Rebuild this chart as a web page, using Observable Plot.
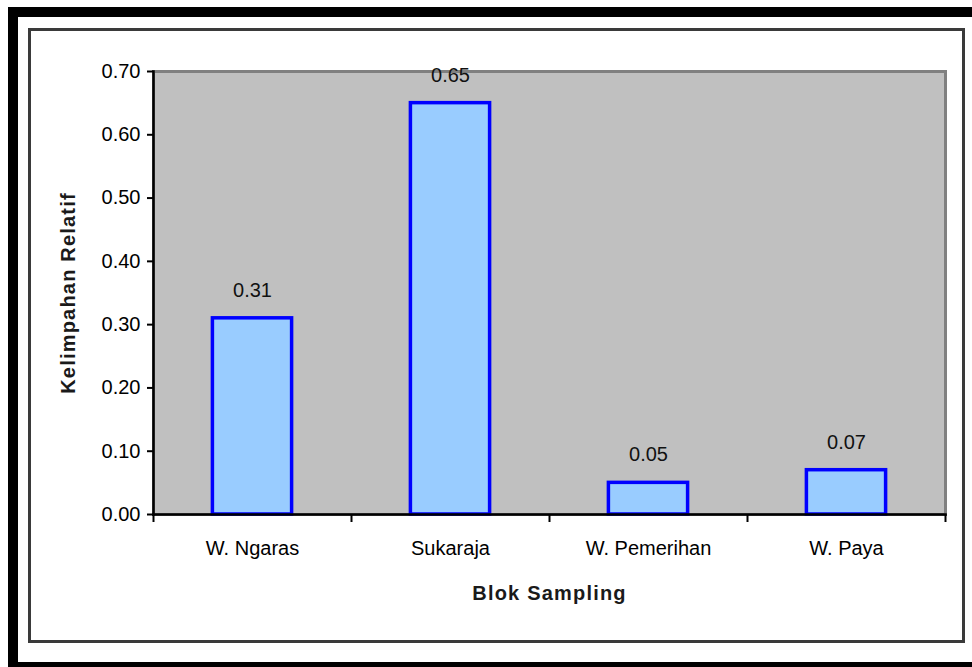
<!DOCTYPE html>
<html>
<head>
<meta charset="utf-8">
<script src="https://cdn.jsdelivr.net/npm/d3@7"></script>
<script src="https://cdn.jsdelivr.net/npm/@observablehq/plot@0.6"></script>
<style>
  html, body { margin: 0; padding: 0; background: #fff; }
  #wrap { position: relative; width: 972px; height: 667px; overflow: hidden; }
  #outer { position: absolute; left: 8px; top: 7px; width: 980px; height: 665px; border: 10px solid #000; box-sizing: border-box; }
  #inner { position: absolute; left: 28px; top: 28px; width: 937px; height: 615px; border: 3px solid #3a3a3a; box-sizing: border-box; }
  #chart { position: absolute; left: 0; top: 0; }
  #chart svg { background: transparent; }
</style>
</head>
<body>
<div id="wrap">
  <div id="outer"></div>
  <div id="inner"></div>
  <div id="chart"></div>
</div>
<script>
const categories = ["W. Ngaras", "Sukaraja", "W. Pemerihan", "W. Paya"];
const values = [0.31, 0.65, 0.05, 0.07];
const yTicks = [0, 0.1, 0.2, 0.3, 0.4, 0.5, 0.6, 0.7];
const xTitle = "Blok Sampling";
const yTitle = "Kelimpahan Relatif";

const data = categories.map((c, i) => ({category: c, index: i, value: values[i]}));
const boundaries = d3.range(categories.length + 1);
const centers = categories.map((c, i) => i + 0.5);

const font = "'Liberation Sans', Arial, sans-serif";

const chart = Plot.plot({
  width: 972,
  height: 667,
  marginLeft: 153,
  marginRight: 27,
  marginTop: 71,
  marginBottom: 153,
  style: {fontFamily: font, fontSize: "20px", color: "#000", background: "transparent"},
  x: {domain: [0, categories.length]},
  y: {domain: [0, 0.7]},
  marks: [
    Plot.frame({fill: "#c0c0c0", stroke: "#808080", strokeWidth: 3}),
    Plot.rectY(data, {
      x1: d => d.index + 0.3,
      x2: d => d.index + 0.7,
      y: "value",
      fill: "#99ccff",
      stroke: "#0000ff",
      strokeWidth: 3.5
    }),
    Plot.text(data, {
      x: d => d.index + 0.5,
      y: "value",
      text: d => d3.format(".2f")(d.value),
      dy: -28,
      fontSize: 20,
      fill: "#111"
    }),
    Plot.frame({anchor: "left", stroke: "#000", strokeWidth: 2.5}),
    Plot.frame({anchor: "bottom", stroke: "#000", strokeWidth: 2.5}),
    Plot.axisY({
      ticks: yTicks,
      tickFormat: d3.format(".2f"),
      tickSize: 6,
      tickPadding: 7,
      strokeWidth: 2,
      fontSize: 20,
      label: null
    }),
    Plot.axisX({
      ticks: boundaries,
      tickSize: 8,
      strokeWidth: 2,
      text: null,
      label: null
    }),
    Plot.axisX({
      ticks: centers,
      tickFormat: (d) => categories[Math.floor(d)],
      tickSize: 0,
      tickPadding: 26,
      fontSize: 20,
      label: null
    }),
    Plot.text([xTitle], {
      frameAnchor: "bottom",
      text: d => d,
      textAnchor: "middle",
      dy: 85,
      fontSize: 20,
      fontWeight: "bold",
      fill: "#1a1a1a"
    }),
    Plot.text([yTitle], {
      frameAnchor: "left",
      text: d => d,
      textAnchor: "middle",
      rotate: -90,
      dx: -85,
      fontSize: 20,
      fontWeight: "bold",
      fill: "#1a1a1a"
    })
  ]
});
chart.querySelectorAll("text").forEach(t => {
  if (t.textContent === xTitle || t.textContent === yTitle) t.style.letterSpacing = "1.2px";
});
document.getElementById("chart").appendChild(chart);
</script>
</body>
</html>
